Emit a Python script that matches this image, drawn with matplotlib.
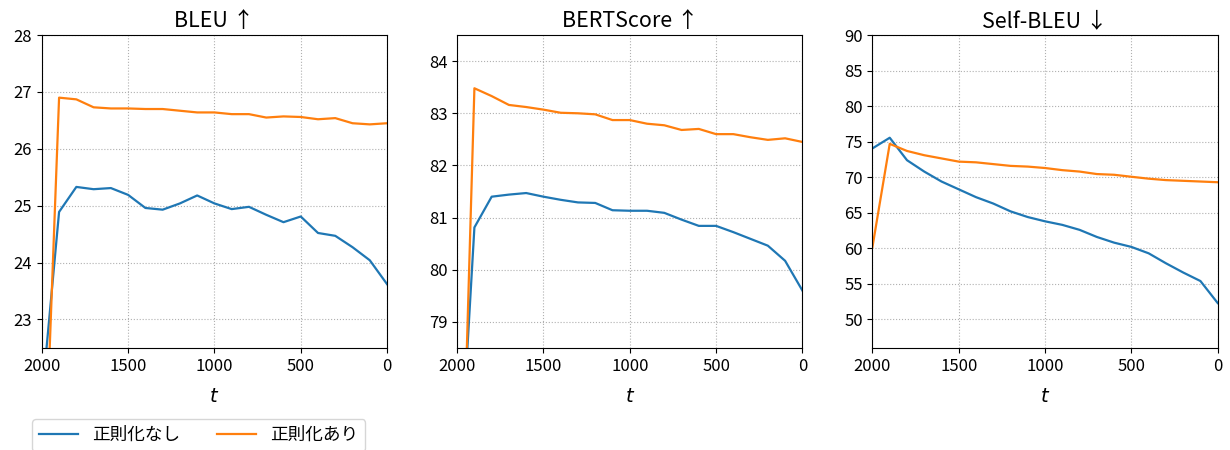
import numpy as np
import matplotlib
matplotlib.use("Agg")
import matplotlib.pyplot as plt

plt.rcParams['font.family'] = ['Noto Sans CJK JP', 'DejaVu Sans']

t = [2000, 1900, 1800, 1700, 1600, 1500, 1400, 1300, 1200, 1100, 1000,
     900, 800, 700, 600, 500, 400, 300, 200, 100, 0]

bleu_plain = [21.6, 24.89, 25.33, 25.29, 25.31, 25.19, 24.96, 24.93, 25.04, 25.18, 25.04,
              24.94, 24.98, 24.84, 24.71, 24.81, 24.52, 24.47, 24.27, 24.04, 23.62]
bleu_reg = [18.8, 26.90, 26.87, 26.73, 26.71, 26.71, 26.70, 26.70, 26.67, 26.64, 26.64,
            26.61, 26.61, 26.55, 26.57, 26.56, 26.52, 26.54, 26.45, 26.43, 26.45]

bert_plain = [75.1, 80.81, 81.40, 81.44, 81.47, 81.40, 81.34, 81.29, 81.28, 81.14, 81.13,
              81.13, 81.09, 80.96, 80.84, 80.84, 80.72, 80.59, 80.46, 80.17, 79.60]
bert_reg = [72.1, 83.48, 83.33, 83.16, 83.12, 83.07, 83.01, 83.00, 82.98, 82.87, 82.87,
            82.80, 82.77, 82.68, 82.70, 82.60, 82.60, 82.54, 82.49, 82.52, 82.45]

sbleu_plain = [74.06, 75.56, 72.4, 70.8, 69.4, 68.3, 67.2, 66.3, 65.2, 64.4, 63.8,
               63.3, 62.6, 61.6, 60.8, 60.2, 59.3, 57.9, 56.6, 55.4, 52.3]
sbleu_reg = [60.2, 74.7, 73.7, 73.1, 72.65, 72.2, 72.1, 71.85, 71.6, 71.5, 71.3,
             71.0, 70.8, 70.45, 70.35, 70.07, 69.8, 69.6, 69.5, 69.4, 69.3]

titles = ['BLEU ↑', 'BERTScore ↑', 'Self-BLEU ↓']
labels = ['正則化なし', '正則化あり']
ylims = [(22.5, 28), (78.5, 84.5), (46, 90)]
yticks = [np.arange(23, 28.1, 1), np.arange(79, 84.1, 1), np.arange(50, 90.1, 5)]
series = [(bleu_plain, bleu_reg), (bert_plain, bert_reg), (sbleu_plain, sbleu_reg)]

fig, axes = plt.subplots(1, 3, figsize=(12.3, 4.5), dpi=100)
fig.subplots_adjust(left=0.034, right=0.990, top=0.922, bottom=0.227, wspace=0.203)

for ax, title, (a, b), yl, yt in zip(axes, titles, series, ylims, yticks):
    ax.plot(t, a, color='tab:blue', lw=1.6, label=labels[0])
    ax.plot(t, b, color='tab:orange', lw=1.6, label=labels[1])
    ax.set_xlim(2000, 0)
    ax.set_ylim(*yl)
    ax.set_yticks(yt)
    ax.set_xticks([2000, 1500, 1000, 500, 0])
    ax.tick_params(labelsize=12)
    ax.set_title(title, fontsize=15.5)
    ax.set_xlabel('$t$', fontsize=14, labelpad=8)
    ax.grid(True, linestyle=':', color='#b0b0b0')

handles, labs = axes[0].get_legend_handles_labels()
fig.legend(handles, labs, loc='upper left', bbox_to_anchor=(0.026, 1 - 419 / 450),
           ncol=2, fontsize=12.7, borderaxespad=0, handlelength=2.2, columnspacing=2.1)

fig.savefig('out.png', dpi=100)
